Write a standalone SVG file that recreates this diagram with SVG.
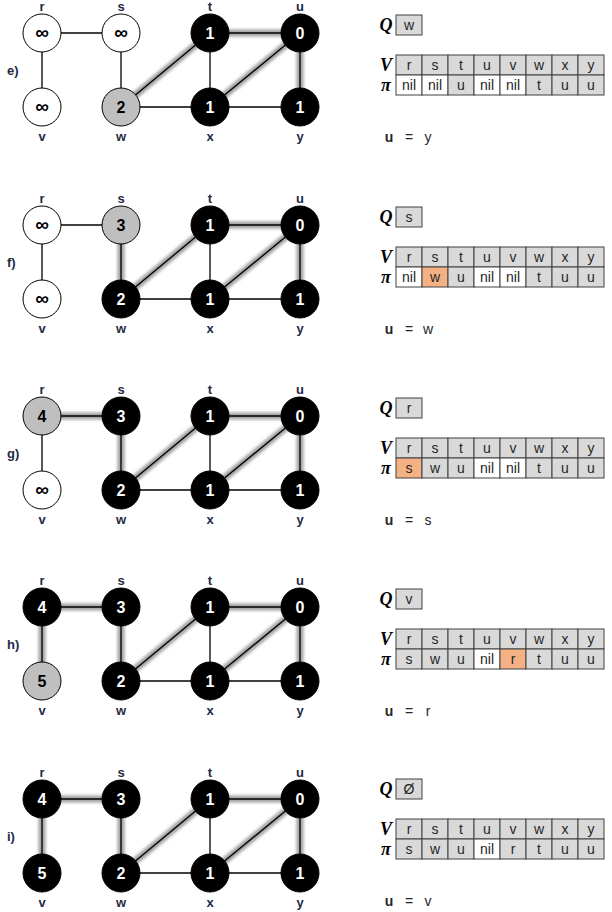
<svg xmlns="http://www.w3.org/2000/svg" width="612" height="912" viewBox="0 0 612 912">
<defs>
<style>
.e{stroke:#000;stroke-width:1.3;fill:none}
.g{stroke:#a0a0a0;stroke-width:7;fill:none;filter:url(#blur)}
.nw{fill:#fff;stroke:#000;stroke-width:1}
.ng{fill:#bfbfbf;stroke:#000;stroke-width:1}
.nb{fill:#000;stroke:#000;stroke-width:1}
.tw{font-family:"Liberation Sans",Arial,sans-serif;font-weight:bold;font-size:16px;fill:#fff;text-anchor:middle}
.tk{font-family:"Liberation Sans",Arial,sans-serif;font-weight:bold;font-size:16px;fill:#000;text-anchor:middle}
.inf{font-family:"Liberation Sans",Arial,sans-serif;font-weight:bold;font-size:19px;fill:#000;text-anchor:middle}
.lb{font-family:"Liberation Sans",Arial,sans-serif;font-weight:bold;font-size:13px;fill:#1f2a44;text-anchor:middle}
.pl{font-family:"Liberation Sans",Arial,sans-serif;font-weight:bold;font-size:13px;fill:#1f2a44}
.cg{fill:#d9d9d9;stroke:#404040;stroke-width:1}
.cw{fill:#fff;stroke:#404040;stroke-width:1}
.co{fill:#f4b183;stroke:#404040;stroke-width:1}
.ct{font-family:"Liberation Sans",Arial,sans-serif;font-size:14px;fill:#262626;text-anchor:middle}
.hd{font-family:"Liberation Serif","Times New Roman",serif;font-weight:bold;font-style:italic;font-size:18px;fill:#000;text-anchor:middle}
.ux{font-family:"Liberation Sans",Arial,sans-serif;font-size:14px;fill:#262626;text-anchor:middle}
.ub{font-family:"Liberation Sans",Arial,sans-serif;font-size:14px;font-weight:bold;fill:#262626;text-anchor:middle}
</style>
<filter id="blur" filterUnits="userSpaceOnUse" x="0" y="-20" width="400" height="180"><feGaussianBlur stdDeviation="1.5"/></filter>
</defs>

<!-- Panel e -->
<g id="panel-e">
<text class="pl" x="7" y="75">e)</text>
<g id="e-connectors">
<line class="g" x1="210" y1="33" x2="300" y2="33"/>
<line class="g" x1="210" y1="33" x2="121" y2="107"/>
<line class="g" x1="300" y1="33" x2="210" y2="107"/>
<line class="g" x1="300" y1="33" x2="300" y2="107"/>
<line class="e" x1="42" y1="33" x2="121" y2="33"/>
<line class="e" x1="42" y1="33" x2="42" y2="107"/>
<line class="e" x1="121" y1="33" x2="121" y2="107"/>
<line class="e" x1="121" y1="107" x2="300" y2="107"/>
<line class="e" x1="210" y1="33" x2="210" y2="107"/>
<line class="e" x1="210" y1="33" x2="300" y2="33"/>
<line class="e" x1="210" y1="33" x2="121" y2="107"/>
<line class="e" x1="300" y1="33" x2="210" y2="107"/>
<line class="e" x1="300" y1="33" x2="300" y2="107"/>
</g>
<g id="e-r"><circle class="nw" cx="42" cy="33" r="19"/><text class="inf" x="42" y="39">∞</text><text class="lb" x="42" y="11">r</text></g>
<g id="e-s"><circle class="nw" cx="121" cy="33" r="19"/><text class="inf" x="121" y="39">∞</text><text class="lb" x="121" y="11">s</text></g>
<g id="e-t"><circle class="nb" cx="210" cy="33" r="19"/><text class="tw" x="210" y="39">1</text><text class="lb" x="210" y="11">t</text></g>
<g id="e-u"><circle class="nb" cx="300" cy="33" r="19"/><text class="tw" x="300" y="39">0</text><text class="lb" x="300" y="11">u</text></g>
<g id="e-v"><circle class="nw" cx="42" cy="107" r="19"/><text class="inf" x="42" y="113">∞</text><text class="lb" x="42" y="141">v</text></g>
<g id="e-w"><circle class="ng" cx="121" cy="107" r="19"/><text class="tk" x="121" y="113">2</text><text class="lb" x="121" y="141">w</text></g>
<g id="e-x"><circle class="nb" cx="210" cy="107" r="19"/><text class="tw" x="210" y="113">1</text><text class="lb" x="210" y="141">x</text></g>
<g id="e-y"><circle class="nb" cx="300" cy="107" r="19"/><text class="tw" x="300" y="113">1</text><text class="lb" x="300" y="141">y</text></g>
<g id="e-table">
<text class="hd" x="386" y="31">Q</text>
<rect class="cg" x="396" y="15" width="26" height="20"/><text class="ct" x="409" y="30">w</text>
<text class="hd" x="386" y="71">V</text>
<text class="hd" x="386" y="91">π</text>
<rect class="cg" x="396" y="55" width="26" height="20"/><text class="ct" x="409" y="70">r</text>
<rect class="cg" x="422" y="55" width="26" height="20"/><text class="ct" x="435" y="70">s</text>
<rect class="cg" x="448" y="55" width="26" height="20"/><text class="ct" x="461" y="70">t</text>
<rect class="cg" x="474" y="55" width="26" height="20"/><text class="ct" x="487" y="70">u</text>
<rect class="cg" x="500" y="55" width="26" height="20"/><text class="ct" x="513" y="70">v</text>
<rect class="cg" x="526" y="55" width="26" height="20"/><text class="ct" x="539" y="70">w</text>
<rect class="cg" x="552" y="55" width="26" height="20"/><text class="ct" x="565" y="70">x</text>
<rect class="cg" x="578" y="55" width="26" height="20"/><text class="ct" x="591" y="70">y</text>
<rect class="cw" x="396" y="75" width="26" height="20"/><text class="ct" x="409" y="90">nil</text>
<rect class="cw" x="422" y="75" width="26" height="20"/><text class="ct" x="435" y="90">nil</text>
<rect class="cg" x="448" y="75" width="26" height="20"/><text class="ct" x="461" y="90">u</text>
<rect class="cw" x="474" y="75" width="26" height="20"/><text class="ct" x="487" y="90">nil</text>
<rect class="cw" x="500" y="75" width="26" height="20"/><text class="ct" x="513" y="90">nil</text>
<rect class="cg" x="526" y="75" width="26" height="20"/><text class="ct" x="539" y="90">t</text>
<rect class="cg" x="552" y="75" width="26" height="20"/><text class="ct" x="565" y="90">u</text>
<rect class="cg" x="578" y="75" width="26" height="20"/><text class="ct" x="591" y="90">u</text>
<text class="ub" x="389" y="142">u</text><text class="ux" x="409" y="142">=</text><text class="ux" x="428" y="142">y</text>
</g>
</g>

<!-- Panel f -->
<g id="panel-f" transform="translate(0,192)">
<text class="pl" x="7" y="75">f)</text>
<g id="f-connectors">
<line class="g" x1="210" y1="33" x2="300" y2="33"/>
<line class="g" x1="210" y1="33" x2="121" y2="107"/>
<line class="g" x1="300" y1="33" x2="210" y2="107"/>
<line class="g" x1="300" y1="33" x2="300" y2="107"/>
<line class="g" x1="121" y1="33" x2="121" y2="107"/>
<line class="e" x1="42" y1="33" x2="121" y2="33"/>
<line class="e" x1="42" y1="33" x2="42" y2="107"/>
<line class="e" x1="121" y1="33" x2="121" y2="107"/>
<line class="e" x1="121" y1="107" x2="300" y2="107"/>
<line class="e" x1="210" y1="33" x2="210" y2="107"/>
<line class="e" x1="210" y1="33" x2="300" y2="33"/>
<line class="e" x1="210" y1="33" x2="121" y2="107"/>
<line class="e" x1="300" y1="33" x2="210" y2="107"/>
<line class="e" x1="300" y1="33" x2="300" y2="107"/>
</g>
<g id="f-r"><circle class="nw" cx="42" cy="33" r="19"/><text class="inf" x="42" y="39">∞</text><text class="lb" x="42" y="11">r</text></g>
<g id="f-s"><circle class="ng" cx="121" cy="33" r="19"/><text class="tk" x="121" y="39">3</text><text class="lb" x="121" y="11">s</text></g>
<g id="f-t"><circle class="nb" cx="210" cy="33" r="19"/><text class="tw" x="210" y="39">1</text><text class="lb" x="210" y="11">t</text></g>
<g id="f-u"><circle class="nb" cx="300" cy="33" r="19"/><text class="tw" x="300" y="39">0</text><text class="lb" x="300" y="11">u</text></g>
<g id="f-v"><circle class="nw" cx="42" cy="107" r="19"/><text class="inf" x="42" y="113">∞</text><text class="lb" x="42" y="141">v</text></g>
<g id="f-w"><circle class="nb" cx="121" cy="107" r="19"/><text class="tw" x="121" y="113">2</text><text class="lb" x="121" y="141">w</text></g>
<g id="f-x"><circle class="nb" cx="210" cy="107" r="19"/><text class="tw" x="210" y="113">1</text><text class="lb" x="210" y="141">x</text></g>
<g id="f-y"><circle class="nb" cx="300" cy="107" r="19"/><text class="tw" x="300" y="113">1</text><text class="lb" x="300" y="141">y</text></g>
<g id="f-table">
<text class="hd" x="386" y="31">Q</text>
<rect class="cg" x="396" y="15" width="26" height="20"/><text class="ct" x="409" y="30">s</text>
<text class="hd" x="386" y="71">V</text>
<text class="hd" x="386" y="91">π</text>
<rect class="cg" x="396" y="55" width="26" height="20"/><text class="ct" x="409" y="70">r</text>
<rect class="cg" x="422" y="55" width="26" height="20"/><text class="ct" x="435" y="70">s</text>
<rect class="cg" x="448" y="55" width="26" height="20"/><text class="ct" x="461" y="70">t</text>
<rect class="cg" x="474" y="55" width="26" height="20"/><text class="ct" x="487" y="70">u</text>
<rect class="cg" x="500" y="55" width="26" height="20"/><text class="ct" x="513" y="70">v</text>
<rect class="cg" x="526" y="55" width="26" height="20"/><text class="ct" x="539" y="70">w</text>
<rect class="cg" x="552" y="55" width="26" height="20"/><text class="ct" x="565" y="70">x</text>
<rect class="cg" x="578" y="55" width="26" height="20"/><text class="ct" x="591" y="70">y</text>
<rect class="cw" x="396" y="75" width="26" height="20"/><text class="ct" x="409" y="90">nil</text>
<rect class="co" x="422" y="75" width="26" height="20"/><text class="ct" x="435" y="90">w</text>
<rect class="cg" x="448" y="75" width="26" height="20"/><text class="ct" x="461" y="90">u</text>
<rect class="cw" x="474" y="75" width="26" height="20"/><text class="ct" x="487" y="90">nil</text>
<rect class="cw" x="500" y="75" width="26" height="20"/><text class="ct" x="513" y="90">nil</text>
<rect class="cg" x="526" y="75" width="26" height="20"/><text class="ct" x="539" y="90">t</text>
<rect class="cg" x="552" y="75" width="26" height="20"/><text class="ct" x="565" y="90">u</text>
<rect class="cg" x="578" y="75" width="26" height="20"/><text class="ct" x="591" y="90">u</text>
<text class="ub" x="389" y="142">u</text><text class="ux" x="409" y="142">=</text><text class="ux" x="428" y="142">w</text>
</g>
</g>

<!-- Panel g -->
<g id="panel-g" transform="translate(0,383)">
<text class="pl" x="7" y="75">g)</text>
<g id="g-connectors">
<line class="g" x1="210" y1="33" x2="300" y2="33"/>
<line class="g" x1="210" y1="33" x2="121" y2="107"/>
<line class="g" x1="300" y1="33" x2="210" y2="107"/>
<line class="g" x1="300" y1="33" x2="300" y2="107"/>
<line class="g" x1="121" y1="33" x2="121" y2="107"/>
<line class="g" x1="42" y1="33" x2="121" y2="33"/>
<line class="e" x1="42" y1="33" x2="121" y2="33"/>
<line class="e" x1="42" y1="33" x2="42" y2="107"/>
<line class="e" x1="121" y1="33" x2="121" y2="107"/>
<line class="e" x1="121" y1="107" x2="300" y2="107"/>
<line class="e" x1="210" y1="33" x2="210" y2="107"/>
<line class="e" x1="210" y1="33" x2="300" y2="33"/>
<line class="e" x1="210" y1="33" x2="121" y2="107"/>
<line class="e" x1="300" y1="33" x2="210" y2="107"/>
<line class="e" x1="300" y1="33" x2="300" y2="107"/>
</g>
<g id="g-r"><circle class="ng" cx="42" cy="33" r="19"/><text class="tk" x="42" y="39">4</text><text class="lb" x="42" y="11">r</text></g>
<g id="g-s"><circle class="nb" cx="121" cy="33" r="19"/><text class="tw" x="121" y="39">3</text><text class="lb" x="121" y="11">s</text></g>
<g id="g-t"><circle class="nb" cx="210" cy="33" r="19"/><text class="tw" x="210" y="39">1</text><text class="lb" x="210" y="11">t</text></g>
<g id="g-u"><circle class="nb" cx="300" cy="33" r="19"/><text class="tw" x="300" y="39">0</text><text class="lb" x="300" y="11">u</text></g>
<g id="g-v"><circle class="nw" cx="42" cy="107" r="19"/><text class="inf" x="42" y="113">∞</text><text class="lb" x="42" y="141">v</text></g>
<g id="g-w"><circle class="nb" cx="121" cy="107" r="19"/><text class="tw" x="121" y="113">2</text><text class="lb" x="121" y="141">w</text></g>
<g id="g-x"><circle class="nb" cx="210" cy="107" r="19"/><text class="tw" x="210" y="113">1</text><text class="lb" x="210" y="141">x</text></g>
<g id="g-y"><circle class="nb" cx="300" cy="107" r="19"/><text class="tw" x="300" y="113">1</text><text class="lb" x="300" y="141">y</text></g>
<g id="g-table">
<text class="hd" x="386" y="31">Q</text>
<rect class="cg" x="396" y="15" width="26" height="20"/><text class="ct" x="409" y="30">r</text>
<text class="hd" x="386" y="71">V</text>
<text class="hd" x="386" y="91">π</text>
<rect class="cg" x="396" y="55" width="26" height="20"/><text class="ct" x="409" y="70">r</text>
<rect class="cg" x="422" y="55" width="26" height="20"/><text class="ct" x="435" y="70">s</text>
<rect class="cg" x="448" y="55" width="26" height="20"/><text class="ct" x="461" y="70">t</text>
<rect class="cg" x="474" y="55" width="26" height="20"/><text class="ct" x="487" y="70">u</text>
<rect class="cg" x="500" y="55" width="26" height="20"/><text class="ct" x="513" y="70">v</text>
<rect class="cg" x="526" y="55" width="26" height="20"/><text class="ct" x="539" y="70">w</text>
<rect class="cg" x="552" y="55" width="26" height="20"/><text class="ct" x="565" y="70">x</text>
<rect class="cg" x="578" y="55" width="26" height="20"/><text class="ct" x="591" y="70">y</text>
<rect class="co" x="396" y="75" width="26" height="20"/><text class="ct" x="409" y="90">s</text>
<rect class="cg" x="422" y="75" width="26" height="20"/><text class="ct" x="435" y="90">w</text>
<rect class="cg" x="448" y="75" width="26" height="20"/><text class="ct" x="461" y="90">u</text>
<rect class="cw" x="474" y="75" width="26" height="20"/><text class="ct" x="487" y="90">nil</text>
<rect class="cw" x="500" y="75" width="26" height="20"/><text class="ct" x="513" y="90">nil</text>
<rect class="cg" x="526" y="75" width="26" height="20"/><text class="ct" x="539" y="90">t</text>
<rect class="cg" x="552" y="75" width="26" height="20"/><text class="ct" x="565" y="90">u</text>
<rect class="cg" x="578" y="75" width="26" height="20"/><text class="ct" x="591" y="90">u</text>
<text class="ub" x="389" y="142">u</text><text class="ux" x="409" y="142">=</text><text class="ux" x="428" y="142">s</text>
</g>
</g>

<!-- Panel h -->
<g id="panel-h" transform="translate(0,574)">
<text class="pl" x="7" y="75">h)</text>
<g id="h-connectors">
<line class="g" x1="210" y1="33" x2="300" y2="33"/>
<line class="g" x1="210" y1="33" x2="121" y2="107"/>
<line class="g" x1="300" y1="33" x2="210" y2="107"/>
<line class="g" x1="300" y1="33" x2="300" y2="107"/>
<line class="g" x1="121" y1="33" x2="121" y2="107"/>
<line class="g" x1="42" y1="33" x2="121" y2="33"/>
<line class="g" x1="42" y1="33" x2="42" y2="107"/>
<line class="e" x1="42" y1="33" x2="121" y2="33"/>
<line class="e" x1="42" y1="33" x2="42" y2="107"/>
<line class="e" x1="121" y1="33" x2="121" y2="107"/>
<line class="e" x1="121" y1="107" x2="300" y2="107"/>
<line class="e" x1="210" y1="33" x2="210" y2="107"/>
<line class="e" x1="210" y1="33" x2="300" y2="33"/>
<line class="e" x1="210" y1="33" x2="121" y2="107"/>
<line class="e" x1="300" y1="33" x2="210" y2="107"/>
<line class="e" x1="300" y1="33" x2="300" y2="107"/>
</g>
<g id="h-r"><circle class="nb" cx="42" cy="33" r="19"/><text class="tw" x="42" y="39">4</text><text class="lb" x="42" y="11">r</text></g>
<g id="h-s"><circle class="nb" cx="121" cy="33" r="19"/><text class="tw" x="121" y="39">3</text><text class="lb" x="121" y="11">s</text></g>
<g id="h-t"><circle class="nb" cx="210" cy="33" r="19"/><text class="tw" x="210" y="39">1</text><text class="lb" x="210" y="11">t</text></g>
<g id="h-u"><circle class="nb" cx="300" cy="33" r="19"/><text class="tw" x="300" y="39">0</text><text class="lb" x="300" y="11">u</text></g>
<g id="h-v"><circle class="ng" cx="42" cy="107" r="19"/><text class="tk" x="42" y="113">5</text><text class="lb" x="42" y="141">v</text></g>
<g id="h-w"><circle class="nb" cx="121" cy="107" r="19"/><text class="tw" x="121" y="113">2</text><text class="lb" x="121" y="141">w</text></g>
<g id="h-x"><circle class="nb" cx="210" cy="107" r="19"/><text class="tw" x="210" y="113">1</text><text class="lb" x="210" y="141">x</text></g>
<g id="h-y"><circle class="nb" cx="300" cy="107" r="19"/><text class="tw" x="300" y="113">1</text><text class="lb" x="300" y="141">y</text></g>
<g id="h-table">
<text class="hd" x="386" y="31">Q</text>
<rect class="cg" x="396" y="15" width="26" height="20"/><text class="ct" x="409" y="30">v</text>
<text class="hd" x="386" y="71">V</text>
<text class="hd" x="386" y="91">π</text>
<rect class="cg" x="396" y="55" width="26" height="20"/><text class="ct" x="409" y="70">r</text>
<rect class="cg" x="422" y="55" width="26" height="20"/><text class="ct" x="435" y="70">s</text>
<rect class="cg" x="448" y="55" width="26" height="20"/><text class="ct" x="461" y="70">t</text>
<rect class="cg" x="474" y="55" width="26" height="20"/><text class="ct" x="487" y="70">u</text>
<rect class="cg" x="500" y="55" width="26" height="20"/><text class="ct" x="513" y="70">v</text>
<rect class="cg" x="526" y="55" width="26" height="20"/><text class="ct" x="539" y="70">w</text>
<rect class="cg" x="552" y="55" width="26" height="20"/><text class="ct" x="565" y="70">x</text>
<rect class="cg" x="578" y="55" width="26" height="20"/><text class="ct" x="591" y="70">y</text>
<rect class="cg" x="396" y="75" width="26" height="20"/><text class="ct" x="409" y="90">s</text>
<rect class="cg" x="422" y="75" width="26" height="20"/><text class="ct" x="435" y="90">w</text>
<rect class="cg" x="448" y="75" width="26" height="20"/><text class="ct" x="461" y="90">u</text>
<rect class="cw" x="474" y="75" width="26" height="20"/><text class="ct" x="487" y="90">nil</text>
<rect class="co" x="500" y="75" width="26" height="20"/><text class="ct" x="513" y="90">r</text>
<rect class="cg" x="526" y="75" width="26" height="20"/><text class="ct" x="539" y="90">t</text>
<rect class="cg" x="552" y="75" width="26" height="20"/><text class="ct" x="565" y="90">u</text>
<rect class="cg" x="578" y="75" width="26" height="20"/><text class="ct" x="591" y="90">u</text>
<text class="ub" x="389" y="142">u</text><text class="ux" x="409" y="142">=</text><text class="ux" x="428" y="142">r</text>
</g>
</g>

<!-- Panel i -->
<g id="panel-i" transform="translate(0,766)">
<text class="pl" x="7" y="75">i)</text>
<g id="i-connectors">
<line class="g" x1="210" y1="33" x2="300" y2="33"/>
<line class="g" x1="210" y1="33" x2="121" y2="107"/>
<line class="g" x1="300" y1="33" x2="210" y2="107"/>
<line class="g" x1="300" y1="33" x2="300" y2="107"/>
<line class="g" x1="121" y1="33" x2="121" y2="107"/>
<line class="g" x1="42" y1="33" x2="121" y2="33"/>
<line class="g" x1="42" y1="33" x2="42" y2="107"/>
<line class="e" x1="42" y1="33" x2="121" y2="33"/>
<line class="e" x1="42" y1="33" x2="42" y2="107"/>
<line class="e" x1="121" y1="33" x2="121" y2="107"/>
<line class="e" x1="121" y1="107" x2="300" y2="107"/>
<line class="e" x1="210" y1="33" x2="210" y2="107"/>
<line class="e" x1="210" y1="33" x2="300" y2="33"/>
<line class="e" x1="210" y1="33" x2="121" y2="107"/>
<line class="e" x1="300" y1="33" x2="210" y2="107"/>
<line class="e" x1="300" y1="33" x2="300" y2="107"/>
</g>
<g id="i-r"><circle class="nb" cx="42" cy="33" r="19"/><text class="tw" x="42" y="39">4</text><text class="lb" x="42" y="11">r</text></g>
<g id="i-s"><circle class="nb" cx="121" cy="33" r="19"/><text class="tw" x="121" y="39">3</text><text class="lb" x="121" y="11">s</text></g>
<g id="i-t"><circle class="nb" cx="210" cy="33" r="19"/><text class="tw" x="210" y="39">1</text><text class="lb" x="210" y="11">t</text></g>
<g id="i-u"><circle class="nb" cx="300" cy="33" r="19"/><text class="tw" x="300" y="39">0</text><text class="lb" x="300" y="11">u</text></g>
<g id="i-v"><circle class="nb" cx="42" cy="107" r="19"/><text class="tw" x="42" y="113">5</text><text class="lb" x="42" y="141">v</text></g>
<g id="i-w"><circle class="nb" cx="121" cy="107" r="19"/><text class="tw" x="121" y="113">2</text><text class="lb" x="121" y="141">w</text></g>
<g id="i-x"><circle class="nb" cx="210" cy="107" r="19"/><text class="tw" x="210" y="113">1</text><text class="lb" x="210" y="141">x</text></g>
<g id="i-y"><circle class="nb" cx="300" cy="107" r="19"/><text class="tw" x="300" y="113">1</text><text class="lb" x="300" y="141">y</text></g>
<g id="i-table" transform="translate(0,-2)">
<text class="hd" x="386" y="31">Q</text>
<rect class="cg" x="396" y="15" width="26" height="20"/><text class="ct" x="409" y="30">Ø</text>
<text class="hd" x="386" y="71">V</text>
<text class="hd" x="386" y="91">π</text>
<rect class="cg" x="396" y="55" width="26" height="20"/><text class="ct" x="409" y="70">r</text>
<rect class="cg" x="422" y="55" width="26" height="20"/><text class="ct" x="435" y="70">s</text>
<rect class="cg" x="448" y="55" width="26" height="20"/><text class="ct" x="461" y="70">t</text>
<rect class="cg" x="474" y="55" width="26" height="20"/><text class="ct" x="487" y="70">u</text>
<rect class="cg" x="500" y="55" width="26" height="20"/><text class="ct" x="513" y="70">v</text>
<rect class="cg" x="526" y="55" width="26" height="20"/><text class="ct" x="539" y="70">w</text>
<rect class="cg" x="552" y="55" width="26" height="20"/><text class="ct" x="565" y="70">x</text>
<rect class="cg" x="578" y="55" width="26" height="20"/><text class="ct" x="591" y="70">y</text>
<rect class="cg" x="396" y="75" width="26" height="20"/><text class="ct" x="409" y="90">s</text>
<rect class="cg" x="422" y="75" width="26" height="20"/><text class="ct" x="435" y="90">w</text>
<rect class="cg" x="448" y="75" width="26" height="20"/><text class="ct" x="461" y="90">u</text>
<rect class="cw" x="474" y="75" width="26" height="20"/><text class="ct" x="487" y="90">nil</text>
<rect class="cg" x="500" y="75" width="26" height="20"/><text class="ct" x="513" y="90">r</text>
<rect class="cg" x="526" y="75" width="26" height="20"/><text class="ct" x="539" y="90">t</text>
<rect class="cg" x="552" y="75" width="26" height="20"/><text class="ct" x="565" y="90">u</text>
<rect class="cg" x="578" y="75" width="26" height="20"/><text class="ct" x="591" y="90">u</text>
<text class="ub" x="389" y="142">u</text><text class="ux" x="409" y="142">=</text><text class="ux" x="428" y="142">v</text>
</g>
</g>
</svg>
